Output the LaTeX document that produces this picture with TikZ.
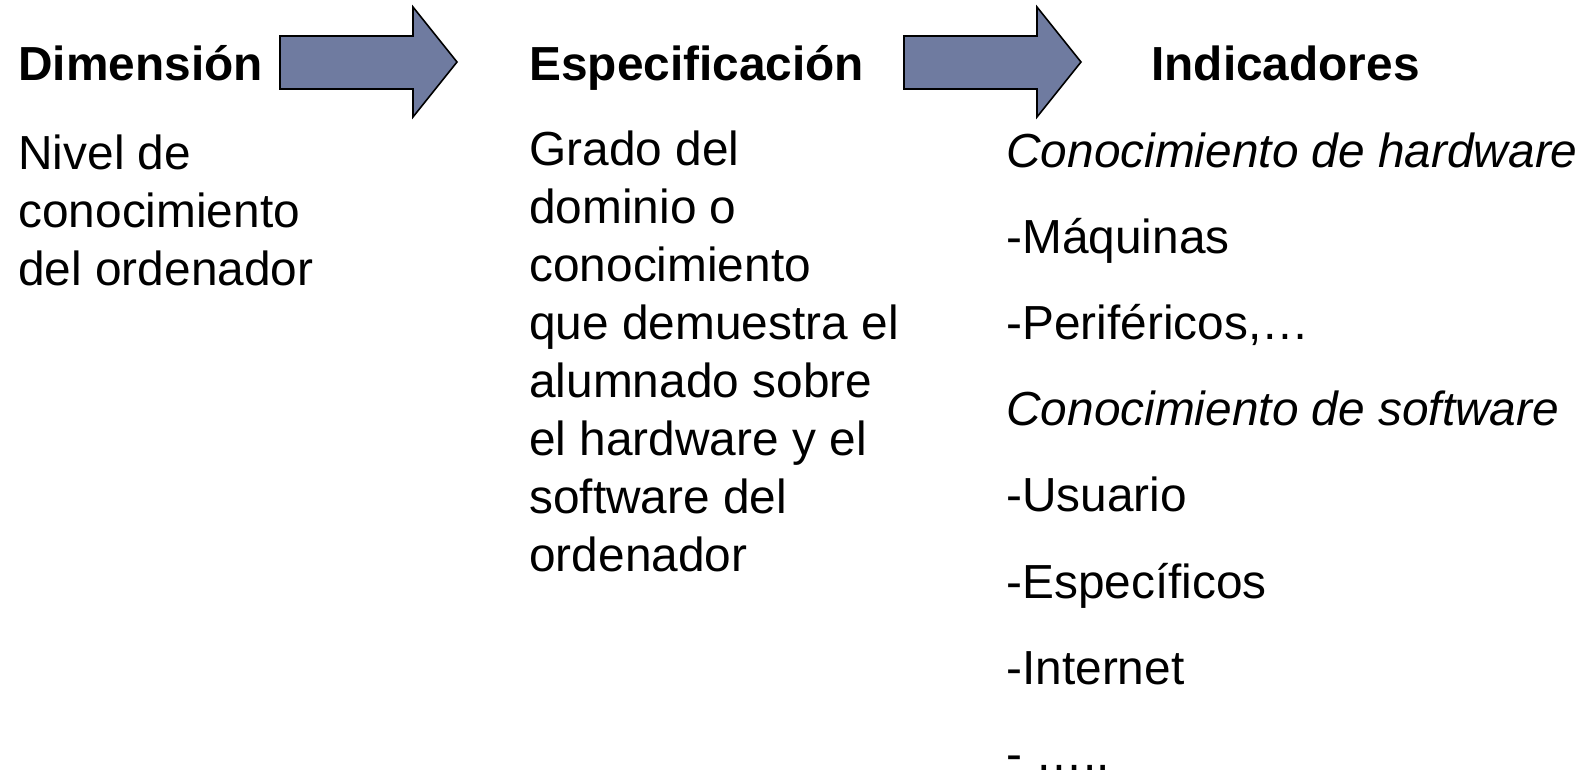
\documentclass[tikz,border=0pt]{standalone}
\usepackage{fontspec}
\setmainfont{Liberation Sans}
\definecolor{arrowblue}{HTML}{6F7BA0}
\tikzset{
  bigfont/.style={font=\fontsize{23.9}{29}\selectfont},
  heading/.style={anchor=base west, inner sep=0pt, font=\fontsize{23.9}{29}\selectfont\bfseries},
  bodytext/.style={bigfont, anchor=base west, inner sep=0pt, align=left},
  bigarrow/.style={draw=black, line width=0.8pt, fill=arrowblue, line join=miter}
}
\begin{document}
\begin{tikzpicture}[x=0.5pt,y=-0.5pt]
\useasboundingbox (0,0) rectangle (1584,773);
% arrows between the columns
\draw[bigarrow] (280,36) -- (413,36) -- (413,7) -- (457,62) -- (413,117) -- (413,89) -- (280,89) -- cycle;
\draw[bigarrow] (904,36) -- (1037,36) -- (1037,7) -- (1081,62) -- (1037,117) -- (1037,89) -- (904,89) -- cycle;
% headings
\node[heading] (dim) at (18,80) {Dimensión};
\node[heading] (esp) at (529,80) {Especificación};
\node[heading] (ind) at (1151,80) {Indicadores};
% column texts (base anchor sits on the last line)
\node[bodytext] (nivel) at (18,285) {Nivel de\\conocimiento\\del ordenador};
\node[bodytext] (grado) at (529,571) {Grado del\\dominio o\\conocimiento\\que demuestra el\\alumnado sobre\\el hardware y el\\software del\\ordenador};
\foreach \txt [count=\i] in {{\itshape Conocimiento de hardware}, -Máquinas, {-Periféricos,…}, {\itshape Conocimiento de software}, -Usuario, -Específicos, -Internet, - …..}
  \node[bodytext] (item\i) at (1006,{167+86.2*(\i-1)}) {\txt};
\end{tikzpicture}
\end{document}
